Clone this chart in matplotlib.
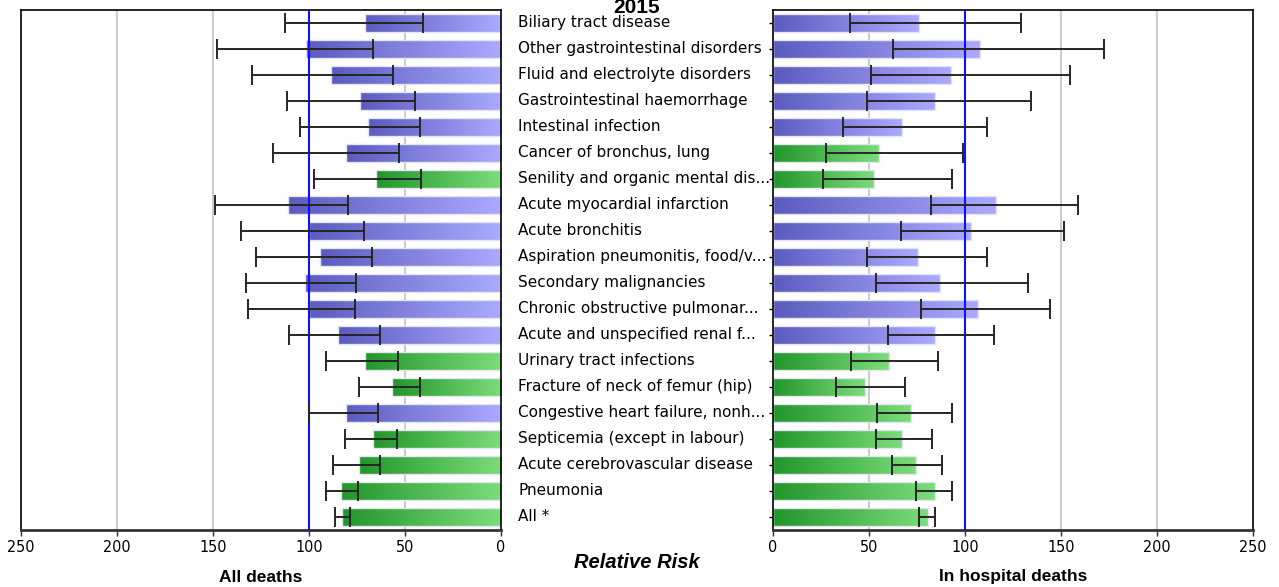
import numpy as np
import matplotlib
matplotlib.use("Agg")
import matplotlib.pyplot as plt
from matplotlib.colors import LinearSegmentedColormap

# categories, top to bottom
categories = [
    "Biliary tract disease",
    "Other gastrointestinal disorders",
    "Fluid and electrolyte disorders",
    "Gastrointestinal haemorrhage",
    "Intestinal infection",
    "Cancer of bronchus, lung",
    "Senility and organic mental dis...",
    "Acute myocardial infarction",
    "Acute bronchitis",
    "Aspiration pneumonitis, food/v...",
    "Secondary malignancies",
    "Chronic obstructive pulmonar...",
    "Acute and unspecified renal f...",
    "Urinary tract infections",
    "Fracture of neck of femur (hip)",
    "Congestive heart failure, nonh...",
    "Septicemia (except in labour)",
    "Acute cerebrovascular disease",
    "Pneumonia",
    "All *",
]

# All deaths: relative risk and confidence interval
all_rr = [70.8, 101.7, 88.5, 73.4, 69.3, 80.9, 65.1, 111.0, 99.8, 94.3,
          102.0, 100.0, 84.9, 70.8, 56.8, 80.7, 66.7, 74.0, 83.3, 82.8]
all_lo = [40.6, 66.5, 56.4, 44.8, 42.2, 53.1, 41.5, 79.5, 71.5, 67.3,
          75.5, 76.0, 63.0, 53.6, 42.2, 64.0, 54.2, 63.0, 74.7, 78.5]
all_hi = [112.5, 147.9, 129.7, 111.5, 104.7, 118.8, 97.3, 149.0, 135.4, 127.6,
          132.8, 131.8, 110.4, 91.1, 74.0, 100.0, 81.3, 87.5, 91.3, 86.2]
all_sig = [0, 0, 0, 0, 0, 0, 1, 0, 0, 0, 0, 0, 0, 1, 1, 0, 1, 1, 1, 1]

# In hospital deaths
hosp_rr = [76.2, 108.0, 92.9, 84.6, 67.2, 55.4, 52.8, 116.1, 103.0, 75.4,
           87.0, 106.8, 84.4, 60.4, 47.9, 71.9, 67.2, 74.5, 84.2, 80.8]
hosp_lo = [40.1, 62.7, 50.9, 49.1, 36.6, 27.4, 25.9, 82.5, 66.8, 49.1,
           53.6, 77.1, 59.9, 40.6, 32.8, 54.2, 53.6, 62.0, 74.4, 76.1]
hosp_hi = [129.0, 172.4, 154.9, 134.2, 111.6, 99.1, 93.4, 159.0, 151.6, 111.5,
           132.8, 144.3, 115.1, 85.9, 68.8, 93.2, 82.8, 88.0, 93.1, 84.2]
hosp_sig = [0, 0, 0, 0, 0, 1, 1, 0, 0, 0, 0, 0, 0, 1, 1, 1, 1, 1, 1, 1]

ticks = [0, 50, 100, 150, 200, 250]

blue_cmap = LinearSegmentedColormap.from_list("b", ["#5b5bbf", "#aaaaff"])
green_cmap = LinearSegmentedColormap.from_list("g", ["#22962a", "#7cdd7a"])
grad = np.linspace(0, 1, 256).reshape(1, -1)

tick_font = ["DejaVu Sans"]
label_font = ["DejaVu Sans"]
head_font = ["Liberation Sans", "DejaVu Sans"]

fig = plt.figure(figsize=(12.79, 5.87), dpi=100)
W, H = 1279.0, 587.0
ax_l = fig.add_axes([21 / W, (H - 530) / H, 480 / W, 520 / H])
ax_r = fig.add_axes([773 / W, (H - 530) / H, 480 / W, 520 / H])

y = np.arange(len(categories))
bar_h = 0.73


def draw_panel(ax, rr, lo, hi, sig, left):
    ax.set_xlim(250, 0) if left else ax.set_xlim(0, 250)
    ax.set_ylim(len(categories) - 0.5, -0.5)
    for g in [50, 150, 200]:
        ax.axvline(g, color="#cccccc", lw=1.5, zorder=0)
    bars = ax.barh(y, rr, height=bar_h, color="none",
                   edgecolor="#e4e4f4", lw=1.0, zorder=2)
    for b, v, s in zip(bars, rr, sig):
        cmap = green_cmap if s else blue_cmap
        yc = b.get_y()
        # dark at the left end of the bar, light at the right end
        if left:
            ext = [v, 0, yc + bar_h, yc]
        else:
            ext = [0, v, yc + bar_h, yc]
        im = ax.imshow(grad, cmap=cmap, extent=ext, aspect="auto",
                       interpolation="bilinear", zorder=1)
        im.set_clip_path(b)
    ax.axvline(100, color="#1010ff", lw=1.5, zorder=3)
    rr_a = np.array(rr)
    err = [rr_a - np.array(lo), np.array(hi) - rr_a]
    ax.errorbar(rr, y, xerr=err, fmt="none", ecolor="#262626",
                elinewidth=1.4, capsize=7, capthick=1.4, zorder=4)
    ax.set_xticks(ticks)
    ax.set_xticklabels([str(t) for t in ticks], family=tick_font,
                       fontsize=11.5, fontstretch="condensed")
    ax.tick_params(axis="x", length=4, width=1, pad=3, color="#333333")
    for sp in ax.spines.values():
        sp.set_linewidth(1.2)
    ax.spines["bottom"].set_linewidth(2.0)
    ax.spines["bottom"].set_color("#333333")
    ax.set_yticks(y)
    ax.set_yticklabels([])
    if left:
        ax.tick_params(axis="y", length=0)
    else:
        ax.tick_params(axis="y", length=3, width=1, direction="out")


draw_panel(ax_l, all_rr, all_lo, all_hi, all_sig, True)
draw_panel(ax_r, hosp_rr, hosp_lo, hosp_hi, hosp_sig, False)

# category labels in the gap between the panels
for i, name in enumerate(categories):
    ax_l.annotate(name, xy=(1, i), xycoords=("axes fraction", "data"),
                  xytext=(17, 0), textcoords="offset pixels",
                  ha="left", va="center", fontsize=11, family=label_font)

fig.text(637 / W, 1 - 13 / H, "2015", ha="center", va="baseline",
         fontsize=15, fontweight="bold", family=head_font)
fig.text(637 / W, 1 - 562 / H, "Relative Risk", ha="center", va="center",
         fontsize=14.5, fontweight="bold", fontstyle="italic", family=head_font)
fig.text(261 / W, 1 - 577 / H, "All deaths", ha="center", va="center",
         fontsize=12.5, fontweight="bold", family=head_font)
fig.text(1013 / W, 1 - 577 / H, "In hospital deaths", ha="center", va="center",
         fontsize=12.5, fontweight="bold", family=head_font)

fig.savefig("out.png", dpi=100)
